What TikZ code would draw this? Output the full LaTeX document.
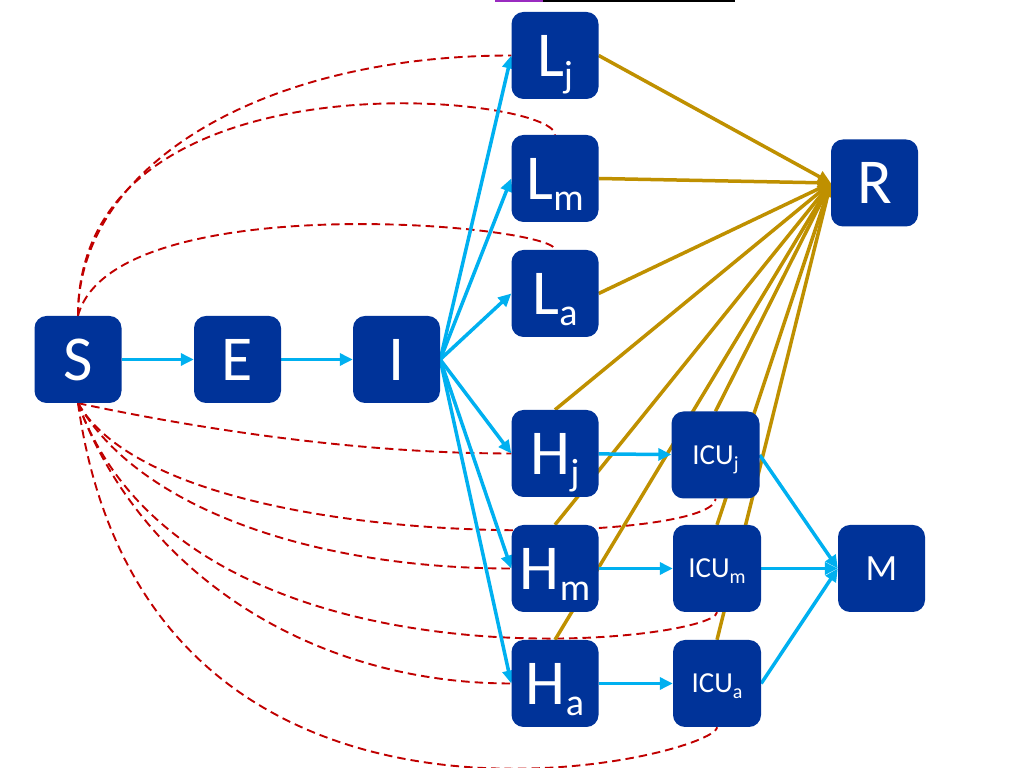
\documentclass[tikz,border=0pt]{standalone}
\usepackage{fontspec}
\setmainfont{Carlito}
\usepackage{xcolor}
\usepackage{tikz}
\usetikzlibrary{arrows.meta,positioning,backgrounds}

\definecolor{boxblue}{HTML}{003399}
\definecolor{flowblue}{HTML}{00B0F0}
\definecolor{recgold}{HTML}{BF9000}
\definecolor{contred}{HTML}{C00000}
\definecolor{barpurple}{HTML}{9A2BC0}

\newcommand{\lowsub}[1]{\smash{\raisebox{-11pt}{\fontsize{38}{38}\selectfont #1}}}
\newcommand{\icusub}[1]{\smash{\raisebox{-6pt}{\fontsize{20}{20}\selectfont #1}}}

\begin{document}
\begin{tikzpicture}[x=1pt, y=1pt,
  comp/.style={rectangle, rounded corners=12pt, fill=boxblue, text=white, minimum width=87pt, minimum height=87pt, inner sep=0pt, font=\fontsize{64}{64}\selectfont},
  icu/.style={comp, minimum width=88pt, font=\fontsize{29}{29}\selectfont},
  flow/.style={line width=3.5pt, draw=flowblue, -{Triangle[length=13pt,width=12pt]}},
  recov/.style={line width=3.5pt, draw=recgold, -{Triangle[length=13pt,width=12pt]}},
  contact/.style={line width=1.9pt, draw=contred, dash pattern=on 8.5pt off 5pt}
]
\useasboundingbox (0,0) rectangle (1013,768);

% Title underline (cut off at the top)
\fill[barpurple] (495,765.5) rectangle (543,768);
\fill[black] (543,765.5) rectangle (735,768);

% Main chain
\node[comp] (S) at (78, 408.5) {S};
\node[comp] (E) at (237.5, 408.5) {E};
\node[comp] (I) at (396.5, 408.5) {I};

% Light cases
\node[comp] (Lj) at (555, 712.5) {L\lowsub{j}};
\node[comp] (Lm) at (555, 589.5) {L\lowsub{m}};
\node[comp] (La) at (555, 474.5) {L\lowsub{a}};

% Hospital and ICU
\node[comp] (Hj) at (555, 314.5) {H\lowsub{j}};
\node[comp] (Hm) at (555, 199.5) {H\lowsub{m}};
\node[comp] (Ha) at (555, 84.5) {H\lowsub{a}};
\node[icu] (ICUj) at (715.5, 313) {ICU\icusub{j}};
\node[icu] (ICUm) at (717, 199.5) {ICU\icusub{m}};
\node[icu] (ICUa) at (717, 84.5) {ICU\icusub{a}};

% Outcomes
\node[comp] (R) at (874.5, 585) {R};
\node[comp, font=\fontsize{37}{37}\selectfont] (M) at (881.5, 199.5) {M};

\begin{scope}[on background layer]
% Contacts with S
\draw[contact] (S.north) to[out=90, in=180, out distance=150pt, in distance=250pt] (Lj.west);
\draw[contact] (S.north) to[out=90, in=90, out distance=270pt, in distance=40pt] (Lm.north);
\draw[contact] (S.north) to[out=75, in=90, out distance=135pt, in distance=25pt] (La.north);
\draw[contact] (S.south) to[out=-12, in=180, out distance=130pt, in distance=150pt] (Hj.west);
\draw[contact] (S.south) to[out=-60, in=-90, out distance=180pt, in distance=47pt] (ICUj.south);
\draw[contact] (S.south) to[out=-60, in=180, out distance=120pt, in distance=200pt] (Hm.west);
\draw[contact] (S.south) to[out=-70, in=-90, out distance=320pt, in distance=30pt] (ICUm.south);
\draw[contact] (S.south) to[out=-70, in=180, out distance=180pt, in distance=200pt] (Ha.west);
\draw[contact] (S.south) to[out=-82, in=-90, out distance=500pt, in distance=30pt] (ICUa.south);

% Recovery
\foreach \src in {Lj, Lm, La}
  \draw[recov] (\src.east) -- (R.west);
\foreach \src in {Hj, Hm, Ha, ICUj, ICUm, ICUa}
  \draw[recov] (\src.north) -- (R.west);

% Progression
\draw[flow] (S) -- (E);
\draw[flow] (E) -- (I);
\foreach \dst in {Lj, Lm, La, Hj, Hm, Ha}
  \draw[flow] (I.east) -- (\dst.west);
\draw[flow] (Hj) -- (ICUj);
\draw[flow] (Hm) -- (ICUm);
\draw[flow] (Ha) -- (ICUa);
\foreach \src in {ICUj, ICUm, ICUa}
  \draw[flow] (\src.east) -- (M.west);
\end{scope}

\end{tikzpicture}
\end{document}
